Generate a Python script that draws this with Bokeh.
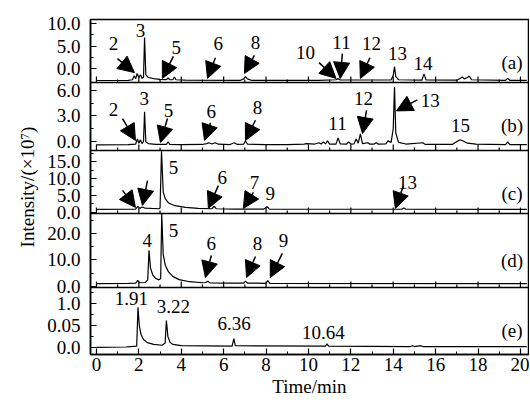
import math
from bokeh.plotting import figure
from bokeh.models import (Range1d, Label, Arrow, NormalHead, Span, SingleIntervalTicker,
                          FixedTicker, LinearAxis)
from bokeh.embed import file_html
from bokeh.resources import INLINE

FONT = "Liberation Serif"
FS = "19px"

# ---------------- data ----------------
t_a = [0.00, 1.50, 1.70, 1.78, 1.85, 1.92, 2.00, 2.08, 2.15, 2.22, 2.27, 2.33, 2.45, 2.70, 3.00, 3.30,
       3.38, 3.45, 3.60, 3.68, 3.75, 4.20, 6.80, 6.95, 7.03, 7.12, 7.30, 10.50, 11.30, 11.40, 11.50,
       13.90, 14.00, 14.06, 14.12, 14.25, 15.35, 15.45, 15.55, 17.00, 17.15, 17.25, 17.35, 17.50,
       17.58, 17.70, 19.30, 19.40, 19.50, 20.30]
y_a = [-2.67, -2.62, -2.50, -1.60, -2.30, -1.10, -2.00, -1.40, -2.20, -1.90, 6.90, -1.40, -2.00, -2.25,
       -2.40, -2.45, -2.10, -2.45, -2.50, -1.90, -2.50, -2.60, -2.62, -2.30, -1.80, -2.30, -2.62, -2.62,
       -2.50, -2.25, -2.55, -2.55, -1.50, 0.40, -1.80, -2.50, -2.60, -1.20, -2.55, -2.60, -2.20, -1.90,
       -2.30, -2.00, -1.70, -2.50, -2.62, -2.20, -2.62, -2.62]

t_b = [0.00, 1.50, 1.85, 1.93, 2.00, 2.07, 2.15, 2.22, 2.27, 2.33, 2.45, 2.80, 3.30, 3.38, 3.46, 4.00,
       5.00, 5.20, 5.30, 5.45, 5.60, 5.75, 6.30, 6.50, 6.65, 6.95, 7.03, 7.12, 8.00, 9.00, 9.80, 9.90,
       10.30, 10.50, 10.60, 10.70, 10.80, 10.90, 11.00, 11.30, 11.40, 11.50, 11.80, 11.90, 12.00, 12.15,
       12.25, 12.35, 12.45, 12.55, 12.80, 12.90, 13.10, 13.20, 13.30, 13.65, 13.75, 13.90, 14.00, 14.06,
       14.12, 14.25, 14.60, 15.40, 15.50, 16.80, 17.00, 17.15, 17.30, 17.50, 17.90, 19.30, 19.40, 19.50,
       20.30]
y_b = [-0.40, -0.38, -0.30, 0.30, -0.20, 0.20, -0.25, 0.00, 3.50, -0.05, -0.25, -0.33, -0.35, -0.05,
       -0.33, -0.38, -0.35, -0.25, -0.15, -0.30, -0.15, -0.32, -0.36, -0.15, -0.35, -0.30, 0.07, -0.30,
       -0.38, -0.36, -0.30, -0.25, -0.30, -0.15, -0.30, -0.05, -0.28, 0.07, -0.30, -0.30, 0.42, -0.28,
       -0.30, -0.05, -0.30, -0.28, 0.30, -0.20, 0.90, -0.25, -0.15, -0.32, -0.30, -0.15, -0.32, -0.28,
       0.07, -0.10, 1.50, 6.40, 1.00, -0.10, -0.30, -0.15, -0.34, -0.33, 0.00, 0.20, 0.05, -0.20, -0.32,
       -0.36, -0.05, -0.36, -0.38]

t_c = [0.00, 1.50, 1.85, 1.95, 2.05, 2.15, 2.30, 2.60, 2.95, 3.00, 3.07, 3.15, 3.25, 3.40, 3.70, 4.20,
       4.80, 5.45, 5.55, 5.65, 6.50, 7.90, 8.05, 8.15, 14.40, 14.50, 14.60, 20.30]
y_c = [0.90, 0.95, 1.00, 1.80, 1.20, 1.60, 1.30, 1.20, 1.10, 1.30, 18.00, 6.00, 4.00, 2.80, 2.00, 1.50,
       1.20, 1.10, 1.90, 1.10, 1.00, 1.00, 1.70, 1.00, 0.95, 1.30, 0.95, 0.90]

t_d = [0.00, 1.50, 1.85, 1.95, 2.05, 2.30, 2.42, 2.48, 2.55, 2.65, 2.80, 2.95, 3.03, 3.08, 3.15, 3.25,
       3.40, 3.60, 3.90, 4.40, 5.00, 5.15, 5.25, 5.35, 6.30, 6.95, 7.03, 7.12, 8.00, 8.08, 8.18, 20.30]
y_d = [1.10, 1.15, 1.30, 2.30, 1.40, 1.50, 2.50, 13.60, 7.00, 4.50, 3.00, 2.50, 3.00, 27.30, 12.00, 8.00,
       5.50, 3.80, 2.60, 1.80, 1.40, 1.50, 2.00, 1.40, 1.30, 1.30, 2.00, 1.30, 1.20, 2.20, 1.20, 1.10]

t_e = [0.00, 1.40, 1.60, 1.90, 1.96, 2.02, 2.10, 2.22, 2.40, 2.70, 3.10, 3.24, 3.30, 3.37, 3.47, 3.60,
       4.00, 6.40, 6.48, 6.55, 10.80, 10.88, 10.95, 14.80, 14.90, 15.00, 15.30, 15.40, 20.30]
y_e = [0.00, 0.01, 0.02, 0.03, 0.91, 0.50, 0.30, 0.18, 0.11, 0.07, 0.05, 0.10, 0.61, 0.25, 0.12, 0.07,
       0.04, 0.03, 0.20, 0.04, 0.03, 0.08, 0.03, 0.02, 0.04, 0.02, 0.04, 0.02, 0.02]

yt_a, yl_a = [0, 5, 10], ["0.0", "5.0", "10.0"]
yt_b, yl_b = [0, 3, 6], ["0.0", "3.0", "6.0"]
yt_c, yl_c = [0, 5, 10, 15], ["0.0", "5.0", "10.0", "15.0"]
yt_d, yl_d = [0, 10, 20], ["0.0", "10.0", "20.0"]
yt_e, yl_e = [0, 0.5, 1.0], ["0.0", "0.05", "1.0"]
ym_a = [2.5, 7.5]
ym_b = [1.5, 4.5]
ym_c = [2.5, 7.5, 12.5, 17.5]
ym_d = [5, 15, 25]
ym_e = [0.25, 0.75, 1.25]

x_major = [0, 2, 4, 6, 8, 10, 12, 14, 16, 18, 20]
x_minor = [1, 3, 5, 7, 9, 11, 13, 15, 17, 19]

notes_a = [("2", 0.80, 5.56), ("3", 2.08, 8.4), ("5", 3.77, 4.7), ("6", 5.75, 5.6), ("8", 7.5, 5.8),
           ("10", 9.86, 3.6), ("11", 11.56, 5.8), ("12", 12.97, 5.6), ("13", 14.2, 3.3),
           ("14", 15.4, 1.1), ("(a)", 19.6, 1.3)]
notes_b = [("2", 0.8, 3.76), ("3", 2.26, 5.06), ("5", 3.4, 3.65), ("6", 5.42, 3.5), ("8", 7.6, 4.0),
           ("11", 11.37, 2.1), ("12", 12.6, 5.06), ("13", 15.75, 4.8), ("15", 17.17, 1.9),
           ("(b)", 19.6, 1.9)]
notes_c = [("5", 3.63, 13.2), ("6", 5.94, 10.3), ("7", 7.45, 8.8), ("9", 8.2, 5.6), ("13", 14.67, 8.8),
           ("(c)", 19.6, 5.6)]
notes_d = [("4", 2.4, 17.4), ("5", 3.63, 21.1), ("6", 5.42, 16.2), ("8", 7.6, 16.2), ("9", 8.82, 17.4),
           ("(d)", 19.6, 9.8)]
notes_e = [("1.91", 1.65, 1.11), ("3.22", 3.63, 0.93), ("6.36", 6.5, 0.55), ("10.64", 10.7, 0.34),
           ("(e)", 19.6, 0.39)]

arrows_a = [(0.99, 2.2, 1.79, -0.9), (3.63, 2.7, 3.11, -2.2), (5.61, 2.4, 5.24, -2.2),
            (7.45, 2.9, 6.98, -1.1), (10.5, 1.3, 11.3, -2.2), (11.6, 3.3, 11.5, -2.2),
            (12.9, 2.4, 12.45, -2.2)]
arrows_b = [(1.23, 2.7, 1.84, 0.12), (3.35, 2.7, 3.02, -0.12), (5.38, 2.2, 5.1, 0.12),
            (7.5, 2.5, 7.03, 0.12), (12.74, 3.65, 12.55, 0.94), (15.14, 4.9, 14.15, 3.6)]
arrows_c = [(1.23, 6.5, 1.84, 1.5), (2.41, 9.4, 2.17, 2.1), (5.75, 7.9, 5.28, 1.2),
            (7.40, 5.9, 6.93, 1.2), (14.48, 7.9, 14.1, 1.2)]
arrows_d = [(5.42, 11.7, 5.14, 3.4), (7.5, 11.3, 7.08, 3.4), (8.77, 12.5, 8.2, 3.4)]
arrows_e = []

# panel: name, data, value at band bottom / top, band height (px)
panels = [
    ("a", t_a, y_a, -3.11, 10.89, 63, yt_a, yl_a, ym_a, notes_a, arrows_a),
    ("b", t_b, y_b, -1.06, 6.94, 68, yt_b, yl_b, ym_b, notes_b, arrows_b),
    ("c", t_c, y_c, -0.30, 18.24, 63, yt_c, yl_c, ym_c, notes_c, arrows_c),
    ("d", t_d, y_d, -0.38, 27.5, 74, yt_d, yl_d, ym_d, notes_d, arrows_d),
    ("e", t_e, y_e, -0.16, 1.36, 67, yt_e, yl_e, ym_e, notes_e, arrows_e),
]

X_LO, X_HI = -0.28, 20.38
H = sum(pn[5] for pn in panels)
LEFT = 90

p = figure(width=529, height=402, x_range=Range1d(X_LO, X_HI), y_range=Range1d(0, H),
           min_border_left=LEFT, min_border_right=1, min_border_top=19, min_border_bottom=48,
           y_axis_location=None, toolbar_location=None, output_backend="svg",
           background_fill_color="white", border_fill_color="white",
           title="Intensity/(×10⁷)", title_location="left")
p.grid.visible = False
p.outline_line_color = "black"
p.outline_line_width = 1.5
p.title.text_font = FONT
p.title.text_font_size = FS
p.title.text_font_style = "normal"
p.title.text_color = "black"
p.title.align = "center"
p.title.standoff = 14
p.title.offset = -6

ranges = {}
top = 0
for name, t, y, lo, hi, h, *_ in panels:
    k = (hi - lo) / h
    ranges[name] = Range1d(lo - (H - top - h) * k, hi + top * k)
    top += h
p.extra_y_ranges = ranges

# one left axis carrying every panel's ticks, placed through each panel's own range
def to_frame(name, v):
    r = ranges[name]
    return round((v - r.start) / (r.end - r.start) * H, 3)

y_major, y_minor, y_over = [], [], {}
for name, t, y, lo, hi, h, yt, yl, ym, *_ in panels:
    for v, s in zip(yt, yl):
        pos = to_frame(name, v)
        y_major.append(pos)
        y_over[pos] = s
    y_minor += [to_frame(name, v) for v in ym]

yax = LinearAxis(ticker=FixedTicker(ticks=y_major, minor_ticks=y_minor),
                 major_label_overrides=y_over)
yax.major_tick_in = 6
yax.major_tick_out = 0
yax.minor_tick_in = 3
yax.minor_tick_out = 0
yax.major_tick_line_width = 1.2
yax.minor_tick_line_width = 1.2
yax.axis_line_color = "black"
yax.axis_line_width = 1.5
yax.major_label_standoff = 10
yax.major_label_text_font = FONT
yax.major_label_text_font_size = FS
yax.major_label_text_color = "black"
p.add_layout(yax, "left")

ax = p.xaxis[0]
ax.ticker = SingleIntervalTicker(interval=2, num_minor_ticks=2)
ax.major_tick_in = 6
ax.major_tick_out = 0
ax.minor_tick_in = 3
ax.minor_tick_out = 0
ax.axis_line_color = "black"
ax.axis_line_width = 1.5
ax.major_tick_line_width = 1.2
ax.major_label_standoff = 3
ax.major_label_text_font = FONT
ax.major_label_text_font_size = FS
ax.major_label_text_color = "black"
ax.axis_label = "Time/min"
ax.axis_label_text_font = FONT
ax.axis_label_text_font_size = FS
ax.axis_label_text_font_style = "normal"
ax.axis_label_standoff = 2
ax.axis_label_text_color = "black"

head = lambda: NormalHead(size=16, fill_color="black", line_color="black", line_width=1)

for name, t, y, lo, hi, h, yt, yl, ym, notes, arrows in panels:
    p.line(t, y, line_color="black", line_width=1.2, y_range_name=name)
    if name != "e":
        p.add_layout(Span(location=lo, dimension="width", y_range_name=name,
                          line_color="black", line_width=1.5))
        p.ray(x=x_major, y=[lo] * len(x_major), length=6, length_units="screen", angle=math.pi / 2,
              line_color="black", line_width=1.2, y_range_name=name)
        p.ray(x=x_minor, y=[lo] * len(x_minor), length=3, length_units="screen", angle=math.pi / 2,
              line_color="black", line_width=1.2, y_range_name=name)
    for s, xx, yy in notes:
        p.add_layout(Label(x=xx, y=yy, text=s, text_align="center", text_baseline="middle",
                           y_range_name=name, text_font=FONT, text_font_size=FS, text_color="black"))
    for xs, ys, xe, ye in arrows:
        p.add_layout(Arrow(end=head(), x_start=xs, y_start=ys, x_end=xe, y_end=ye,
                           line_color="black", line_width=1.5, y_range_name=name))

open("out.html", "w").write(file_html(p, INLINE))
